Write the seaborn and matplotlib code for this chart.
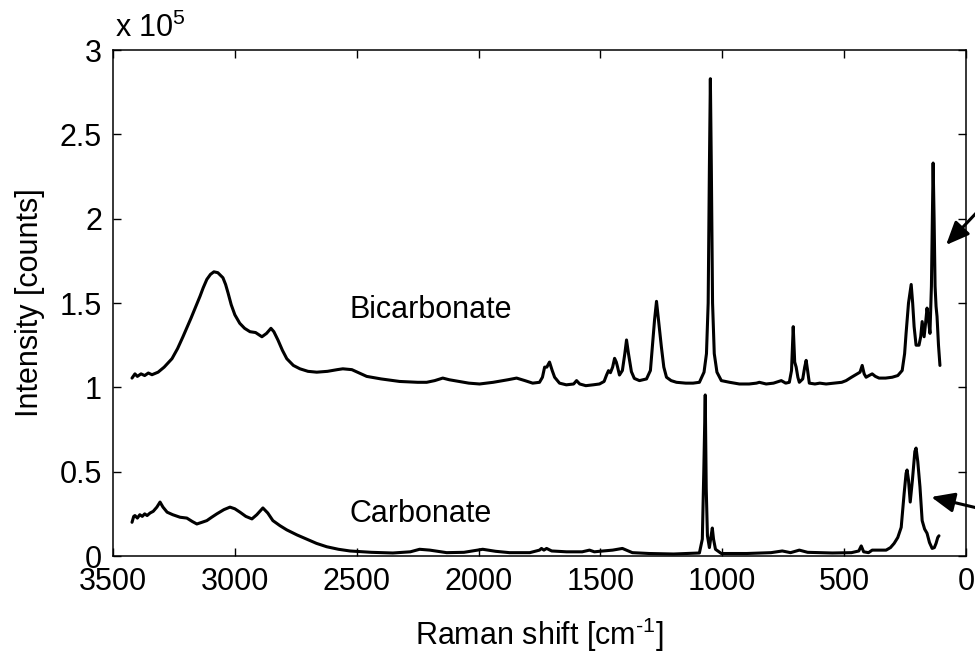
"""
Raman spectra of bicarbonate and carbonate
"""

import matplotlib
matplotlib.use("Agg")
import matplotlib.pyplot as plt
import pandas as pd
import seaborn as sns

sns.set_theme(style="ticks")
plt.rcParams["font.family"] = ["Liberation Sans", "DejaVu Sans"]
plt.rcParams["mathtext.fontset"] = "custom"
plt.rcParams["mathtext.rm"] = "Liberation Sans"
plt.rcParams["mathtext.it"] = "Liberation Sans:italic"
plt.rcParams["mathtext.default"] = "regular"
for k in ["text.color", "axes.labelcolor", "xtick.color", "ytick.color", "axes.edgecolor"]:
    plt.rcParams[k] = "black"

# values, intensity in units of 1e5 counts
bicarb_shift = [3422, 3410, 3400, 3385, 3370, 3355, 3340, 3315, 3290, 3258, 3235, 3213, 3180, 3143, 3130,
                3115, 3100, 3086, 3070, 3049, 3038, 3028, 3015, 3000, 2980, 2960, 2938, 2915, 2889, 2870,
                2852, 2840, 2823, 2805, 2787, 2760, 2733, 2700, 2664, 2620, 2580, 2557, 2520, 2490, 2459,
                2400, 2324, 2250, 2213, 2180, 2147, 2120, 2080, 2040, 1996, 1940, 1880, 1844, 1810, 1778,
                1750, 1738, 1729, 1720, 1709, 1698, 1688, 1668, 1640, 1610, 1598, 1585, 1560, 1530, 1504,
                1485, 1475, 1467, 1459, 1450, 1442, 1435, 1430, 1422, 1410, 1400, 1393, 1385, 1373, 1361,
                1340, 1311, 1295, 1287, 1278, 1270, 1262, 1250, 1240, 1229, 1210, 1188, 1150, 1120, 1094,
                1075, 1065, 1058, 1053, 1049, 1045, 1040, 1033, 1022, 1004, 970, 930, 890, 860, 848,
                820, 790, 758, 740, 725, 716, 709, 703, 697, 690, 684, 670, 662, 656, 650,
                643, 620, 600, 574, 540, 510, 492, 470, 447, 435, 426, 418, 410, 398, 385,
                372, 357, 330, 303, 280, 262, 252, 246, 236, 225, 219, 213, 205, 193, 186,
                180, 172, 166, 160, 154, 148, 142, 138, 135, 131, 127, 123, 119, 113, 107]
bicarb_int = [1.055, 1.08, 1.065, 1.08, 1.07, 1.085, 1.075, 1.09, 1.12, 1.17, 1.23, 1.30, 1.41, 1.54, 1.59,
              1.64, 1.67, 1.685, 1.68, 1.65, 1.61, 1.56, 1.49, 1.43, 1.38, 1.35, 1.33, 1.325, 1.30, 1.32,
              1.35, 1.33, 1.28, 1.22, 1.17, 1.13, 1.11, 1.095, 1.09, 1.095, 1.105, 1.11, 1.105, 1.085, 1.065,
              1.05, 1.035, 1.03, 1.03, 1.04, 1.055, 1.045, 1.035, 1.025, 1.02, 1.03, 1.045, 1.055, 1.04, 1.025,
              1.03, 1.06, 1.12, 1.12, 1.15, 1.10, 1.06, 1.025, 1.015, 1.02, 1.04, 1.02, 1.01, 1.015, 1.02,
              1.035, 1.073, 1.099, 1.087, 1.12, 1.172, 1.15, 1.122, 1.073, 1.10, 1.20, 1.281, 1.20, 1.093, 1.053,
              1.04, 1.05, 1.10, 1.24, 1.40, 1.51, 1.40, 1.24, 1.12, 1.06, 1.04, 1.03, 1.025, 1.025, 1.03,
              1.09, 1.20, 1.50, 2.30, 2.83, 2.30, 1.50, 1.20, 1.09, 1.04, 1.03, 1.02, 1.02, 1.025, 1.03,
              1.02, 1.025, 1.04, 1.025, 1.03, 1.10, 1.36, 1.15, 1.12, 1.06, 1.03, 1.05, 1.12, 1.16, 1.10,
              1.025, 1.02, 1.025, 1.02, 1.025, 1.03, 1.04, 1.06, 1.08, 1.09, 1.13, 1.08, 1.06, 1.07, 1.08,
              1.065, 1.055, 1.055, 1.06, 1.07, 1.10, 1.20, 1.32, 1.50, 1.61, 1.50, 1.36, 1.25, 1.25, 1.30,
              1.39, 1.30, 1.38, 1.47, 1.40, 1.32, 1.60, 2.00, 2.33, 2.00, 1.60, 1.48, 1.42, 1.25, 1.13]

carb_shift = [3422, 3415, 3410, 3400, 3390, 3380, 3370, 3360, 3348, 3335, 3320, 3307, 3295, 3278, 3255,
              3225, 3197, 3175, 3156, 3135, 3115, 3095, 3074, 3045, 3020, 3000, 2979, 2955, 2930, 2910,
              2885, 2865, 2844, 2815, 2787, 2745, 2705, 2665, 2623, 2575, 2528, 2440, 2352, 2280, 2242,
              2200, 2131, 2060, 1983, 1930, 1873, 1790, 1750, 1742, 1732, 1721, 1700, 1639, 1575, 1545,
              1525, 1504, 1450, 1410, 1369, 1300, 1200, 1094, 1082, 1076, 1070, 1066, 1061, 1053, 1046,
              1041, 1036, 1028, 1004, 900, 800, 754, 720, 684, 650, 549, 470, 440, 430, 420,
              400, 385, 328, 310, 295, 280, 266, 254, 246, 242, 236, 229, 220, 210, 205,
              198, 189, 180, 170, 160, 150, 139, 130, 123, 116, 111]
carb_int = [0.20, 0.235, 0.24, 0.225, 0.245, 0.235, 0.25, 0.24, 0.255, 0.265, 0.29, 0.32, 0.29, 0.26, 0.245,
            0.23, 0.225, 0.205, 0.19, 0.20, 0.21, 0.23, 0.25, 0.275, 0.29, 0.28, 0.26, 0.235, 0.22, 0.245,
            0.285, 0.255, 0.21, 0.18, 0.155, 0.125, 0.10, 0.075, 0.055, 0.04, 0.03, 0.022, 0.018, 0.025, 0.04,
            0.035, 0.02, 0.022, 0.04, 0.028, 0.02, 0.02, 0.035, 0.045, 0.035, 0.045, 0.03, 0.025, 0.025, 0.035,
            0.025, 0.028, 0.035, 0.045, 0.02, 0.015, 0.012, 0.018, 0.10, 0.50, 0.955, 0.40, 0.12, 0.05, 0.12,
            0.166, 0.10, 0.04, 0.015, 0.015, 0.02, 0.03, 0.02, 0.035, 0.022, 0.018, 0.02, 0.03, 0.06, 0.025,
            0.02, 0.035, 0.035, 0.05, 0.075, 0.11, 0.17, 0.37, 0.49, 0.51, 0.45, 0.32, 0.45, 0.62, 0.64,
            0.56, 0.41, 0.21, 0.16, 0.135, 0.08, 0.045, 0.05, 0.075, 0.11, 0.12]

x_ticks = [3500, 3000, 2500, 2000, 1500, 1000, 500, 0]
y_ticks = [0, 0.5, 1, 1.5, 2, 2.5, 3]
y_tick_labels = ["0", "0.5", "1", "1.5", "2", "2.5", "3"]

data = pd.concat([
    pd.DataFrame({"sample": "Bicarbonate", "shift": bicarb_shift, "intensity": bicarb_int}),
    pd.DataFrame({"sample": "Carbonate", "shift": carb_shift, "intensity": carb_int}),
])

fig = plt.figure(figsize=(9.75, 6.53), dpi=100)
ax = fig.add_axes([0.1159, 0.1485, 0.8749, 0.7749])
sns.lineplot(data=data, x="shift", y="intensity", hue="sample", palette=["black", "black"],
             sort=False, estimator=None, linewidth=2.2, legend=False, ax=ax)

ax.set_xlim(3500, 0)
ax.set_ylim(0, 3)
ax.set_xticks(x_ticks)
ax.set_xticklabels([str(t) for t in x_ticks])
ax.set_yticks(y_ticks)
ax.set_yticklabels(y_tick_labels)
ax.tick_params(direction="in", top=True, right=True, length=6, width=1, colors="black",
               labelsize=22, pad=8)
for s in ax.spines.values():
    s.set_visible(True)
    s.set_color("black")
    s.set_linewidth(1.1)

ax.set_xlabel("Raman shift [cm$^{\\text{-}1}$]", fontsize=22)
ax.set_ylabel("Intensity [counts]", fontsize=22)
ax.xaxis.set_label_coords(0.5, -0.117)
ax.yaxis.set_label_coords(-0.080, 0.5)

ax.text(2528, 1.411, "Bicarbonate", fontsize=22, ha="left", va="baseline")
ax.text(2528, 0.20, "Carbonate", fontsize=22, ha="left", va="baseline")

fig.text(115 / 975, 1 - 37 / 653, "x 10$^{5}$", fontsize=22, ha="left", va="baseline")

arrow = dict(arrowstyle="-|>,head_length=0.7,head_width=0.3", color="black", lw=2.2,
             mutation_scale=20, shrinkA=0, shrinkB=0)
ax.annotate("", xy=(82, 1.844), xytext=(-115, 2.146), arrowprops=arrow, annotation_clip=False)
ax.annotate("", xy=(143, 0.35), xytext=(-115, 0.261), arrowprops=arrow, annotation_clip=False)

fig.savefig("out.png", dpi=100)
